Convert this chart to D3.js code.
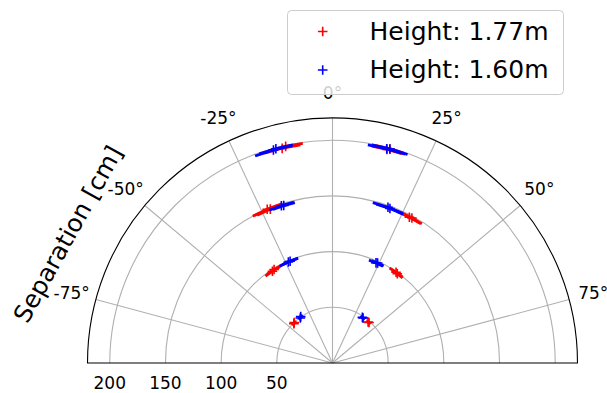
<!DOCTYPE html>
<html>
<head>
<meta charset="utf-8">
<script src="https://cdn.jsdelivr.net/npm/d3@7"></script>
<style>
  html, body { margin: 0; padding: 0; background: #ffffff; }
  text { font-family: "DejaVu Sans", sans-serif; fill: #000000; }
</style>
</head>
<body>
<div id="chart"></div>
<script>
// angles in degrees (0 = straight up, positive = clockwise), separation in cm
const legendLabels = ["Height: 1.77m", "Height: 1.60m"];
const thetaTicks = [-75, -50, -25, 0, 25, 50, 75];
const radialTicks = [50, 100, 150, 200];
const radialMax = 220;

const tallTheta = [-13.2, -12.2, 14.3, 15.0, -23.0, -22.0, 27.8, 28.7,
                   -33.2, -32.0, 35.0, 36.0, -44.5, -43.5, 41.0, 42.0];
const tallSeparation = [198, 199, 198, 199, 150, 149, 148, 148.5,
                        98.5, 99, 99.5, 99, 49.5, 50, 48.7, 49];
const tallThetaErr = [4.8, 4.5, 4.0, 4.0, 5.5, 5.0, 4.5, 4.0,
                      4.5, 4.5, 4.0, 3.5, 2.5, 2.5, 2.5, 2.5];

const shortTheta = [-15.5, -14.8, 14.2, 15.0, -18.0, -17.2, 19.6, 20.4,
                    -23.6, -22.6, 23.5, 24.3, -35.6, -34.4, 33.2, 34.2];
const shortSeparation = [198.5, 199, 198.5, 199, 148.5, 148, 148.5, 148,
                         99, 99, 98, 98.5, 49.7, 50.5, 49, 48.8];
const shortThetaErr = [5.0, 4.5, 5.0, 4.8, 4.5, 4.0, 5.5, 5.0,
                       5.0, 4.5, 4.0, 3.5, 2.5, 2.5, 2.5, 2.5];

var width = 607, height = 393;
var center = { x: 332.5, y: 363 };
var outerRadius = 245;

var r = d3.scaleLinear().domain([0, radialMax]).range([0, outerRadius]);
var angle = d3.scaleLinear().domain([-90, 90]).range([-Math.PI / 2, Math.PI / 2]);

/**
 * Pixel position of a polar point (theta in degrees, radius in data units).
 */
function toXY(theta, rad) {
    var a = angle(theta), d = r(rad);
    return [center.x + d * Math.sin(a), center.y - d * Math.cos(a)];
}

/**
 * SVG path of an arc at radius rad from theta0 to theta1.
 */
function arcPath(rad, theta0, theta1) {
    var p = d3.path();
    p.arc(center.x, center.y, r(rad), angle(theta0) - Math.PI / 2, angle(theta1) - Math.PI / 2, false);
    return p.toString();
}

function plusPath(x, y, s) {
    return "M" + (x - s) + "," + y + "H" + (x + s) + "M" + x + "," + (y - s) + "V" + (y + s);
}

var svg = d3.select("#chart").append("svg")
    .attr("width", width)
    .attr("height", height);

// grid
var grid = svg.append("g").attr("fill", "none").attr("stroke", "#b0b0b0").attr("stroke-width", 1.1);

grid.selectAll(".ring")
    .data(radialTicks)
    .enter()
    .append("path")
    .attr("d", d => arcPath(d, -90, 90));

grid.selectAll(".spoke")
    .data(thetaTicks)
    .enter()
    .append("line")
    .attr("x1", center.x)
    .attr("y1", center.y)
    .attr("x2", d => toXY(d, radialMax)[0])
    .attr("y2", d => toXY(d, radialMax)[1]);

// spines
svg.append("path")
    .attr("d", arcPath(radialMax, -90, 90) + "Z")
    .attr("fill", "none")
    .attr("stroke", "#000000")
    .attr("stroke-width", 1.1);

// tick labels
svg.selectAll(".theta-label")
    .data(thetaTicks)
    .enter()
    .append("text")
    .attr("x", d => center.x + (outerRadius + 25) * Math.sin(angle(d)))
    .attr("y", d => center.y - (outerRadius + 25) * Math.cos(angle(d)))
    .attr("text-anchor", "middle")
    .attr("dominant-baseline", "central")
    .style("font-size", "17px")
    .text(d => d + "°");

svg.selectAll(".r-label")
    .data(radialTicks)
    .enter()
    .append("text")
    .attr("x", d => center.x - r(d))
    .attr("y", 389)
    .attr("text-anchor", "middle")
    .style("font-size", "17px")
    .text(d => d);

svg.append("text")
    .attr("transform", "translate(68,234) rotate(-61)")
    .attr("text-anchor", "middle")
    .attr("dominant-baseline", "central")
    .style("font-size", "24.5px")
    .text("Separation [cm]");

/**
 * Draws one height series: angular error bars and plus markers.
 */
function drawSeries(thetas, seps, errs, color) {
    var g = svg.append("g");
    var idx = d3.range(thetas.length);
    g.selectAll(".err")
        .data(idx)
        .enter()
        .append("path")
        .attr("d", i => arcPath(seps[i], thetas[i] - errs[i], thetas[i] + errs[i]))
        .attr("fill", "none")
        .attr("stroke", color)
        .attr("stroke-width", 2.8);
    g.selectAll(".pt")
        .data(idx)
        .enter()
        .append("path")
        .attr("d", i => { var p = toXY(thetas[i], seps[i]); return plusPath(p[0], p[1], 4.8); })
        .attr("stroke", color)
        .attr("stroke-width", 1.6);
}

drawSeries(tallTheta, tallSeparation, tallThetaErr, "#ff0000");
drawSeries(shortTheta, shortSeparation, shortThetaErr, "#0000ff");

// legend
var legendColors = ["#ff0000", "#0000ff"];
svg.append("rect")
    .attr("x", 287.5)
    .attr("y", 10.5)
    .attr("width", 276)
    .attr("height", 84)
    .attr("rx", 4)
    .attr("fill", "#ffffff")
    .attr("fill-opacity", 0.8)
    .attr("stroke", "#cccccc");

var items = svg.selectAll(".legend")
    .data(legendLabels)
    .enter()
    .append("g")
    .attr("transform", (d, i) => "translate(0," + (i * 38.5) + ")");

items.append("path")
    .attr("d", plusPath(322.7, 31.5, 4.8))
    .attr("stroke", (d, i) => legendColors[i])
    .attr("stroke-width", 1.6);

items.append("text")
    .attr("x", 369.5)
    .attr("y", 39.5)
    .style("font-size", "25px")
    .text(d => d);
</script>
</body>
</html>
